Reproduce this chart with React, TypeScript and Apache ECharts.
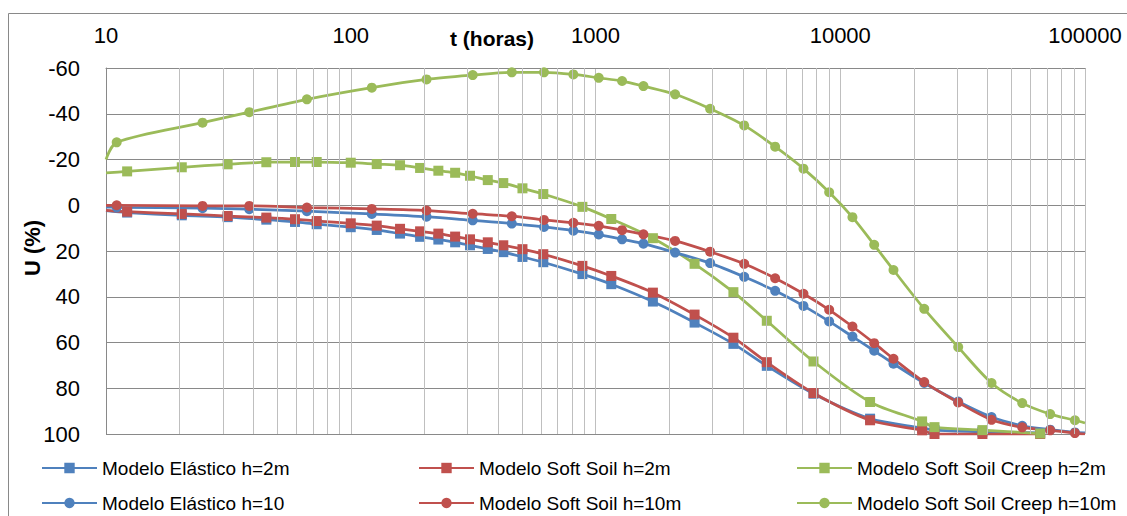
import React, { useEffect, useRef } from "react";
import * as echarts from "echarts";

// time values (hours) for the square-marker series (h = 2m)
const tSquares = [10, 12.2, 20.4, 31.4, 45.2, 59.2, 72.6, 100, 127.7, 159, 192, 228, 267, 307, 363, 420, 503, 612, 884, 1160, 1716, 2540, 3660, 5010, 7775, 13240, 21600, 24270, 38100, 65600];
// time values (hours) for the circle-marker series (h = 10m)
const tCircles = [10, 11.06, 24.8, 38.5, 66.2, 121.9, 204, 315, 455, 616, 812, 1031, 1284, 1570, 2115, 2940, 4050, 5420, 7075, 9010, 11215, 13760, 16500, 22030, 30330, 41500, 55390, 72070, 90930, 100000];

const elasticH2 = [2.4, 3.2, 4.4, 5.2, 6.3, 7.3, 8.3, 9.6, 10.8, 12.4, 13.8, 15.0, 16.2, 17.5, 19.1, 20.5, 22.6, 24.9, 30.1, 34.5, 42.1, 51.3, 60.6, 70.2, 82.4, 93.3, 97.4, 98.3, 99.0, 99.5];
const softH2 = [2.2, 2.8, 3.8, 4.7, 5.4, 6.1, 6.9, 7.9, 8.9, 10.3, 11.4, 12.4, 13.7, 14.9, 16.2, 17.5, 19.2, 21.4, 26.5, 30.9, 38.2, 47.8, 57.9, 68.6, 82.1, 94.0, 98.4, 100, 100, 100];
const creepH2 = [-14.2, -14.8, -16.6, -17.9, -18.8, -18.9, -18.9, -18.6, -18.0, -17.5, -16.3, -15.1, -14.2, -12.9, -11.0, -9.7, -7.4, -4.9, 0.7, 6.0, 14.4, 25.6, 38.0, 50.5, 68.3, 86.0, 94.5, 97.0, 98.3, 99.8];

const elasticH10 = [0.8, 0.9, 1.3, 1.7, 2.6, 3.8, 5.0, 6.6, 8.0, 9.5, 11.1, 12.8, 14.9, 16.8, 20.7, 25.3, 31.3, 37.4, 44.0, 50.8, 57.4, 63.6, 69.3, 77.7, 85.8, 92.6, 96.4, 98.1, 99.3, 99.5];
const softH10 = [0, 0, 0.3, 0.3, 1.0, 1.6, 2.3, 3.7, 4.8, 6.4, 7.7, 9.0, 10.9, 12.7, 15.6, 20.3, 25.6, 31.9, 38.7, 45.7, 53.0, 60.3, 67.1, 77.3, 86.2, 93.8, 97.1, 98.4, 99.6, 100];
const creepH10 = [-20, -27.5, -36.1, -40.7, -46.3, -51.4, -55.0, -56.9, -58.1, -58.1, -57.2, -55.7, -54.3, -52.1, -48.5, -42.2, -34.9, -25.6, -16.0, -5.7, 5.2, 17.3, 28.3, 45.3, 62.0, 77.7, 86.5, 91.3, 94.0, 95.2];

const seriesNames = [
  "Modelo Elástico h=2m",
  "Modelo Soft Soil h=2m",
  "Modelo Soft Soil Creep h=2m",
  "Modelo Elástico h=10",
  "Modelo Soft Soil h=10m",
  "Modelo Soft Soil Creep h=10m",
];
const colors = ["#4F81BD", "#C0504D", "#9BBB59"];

// minor vertical gridlines of the log axis
const minorT = [20, 30, 40, 50, 60, 70, 80, 90, 200, 300, 400, 500, 600, 700, 800, 900, 2000, 3000, 4000, 5000, 6000, 7000, 8000, 9000, 20000, 30000, 40000, 50000, 60000, 70000, 80000, 90000];

const xTitle = "t (horas)";
const yTitle = "U (%)";
const FONT = "Liberation Sans";

function build(ts: number[], vs: number[], edgeIdx: number[]) {
  return ts.map((t, i) =>
    edgeIdx.includes(i) ? { value: [t, vs[i]], symbol: "none" } : { value: [t, vs[i]] }
  );
}

function mkSeries(name: string, color: string, data: any[], symbol: string) {
  return {
    name,
    type: "line",
    data,
    smooth: 0.3,
    symbol,
    symbolSize: 10,
    showAllSymbol: true,
    clip: true,
    z: 3,
    lineStyle: { width: 2.75, color },
    itemStyle: { color },
  };
}

export default function App() {
  const ref = useRef<HTMLDivElement>(null);
  useEffect(() => {
    if (!ref.current) return;
    const chart = echarts.init(ref.current, undefined, { renderer: "svg" });
    const lastC = tCircles.length - 1;
    const legendPos = [
      [41, 457],
      [418, 457],
      [796, 457],
      [41, 492],
      [418, 492],
      [796, 492],
    ];
    const legends = seriesNames.map((n, i) => ({
      orient: "horizontal",
      left: legendPos[i][0],
      top: legendPos[i][1],
      itemWidth: 55,
      itemHeight: 13,
      padding: 0,
      data: [n],
      textStyle: { fontSize: 19, fontFamily: FONT, color: "#000", lineHeight: 22 },
    }));
    chart.setOption({
      animation: false,
      textStyle: { fontFamily: FONT },
      grid: { left: 106, right: 42, top: 68, bottom: 82 },
      xAxis: {
        type: "log",
        logBase: 10,
        min: 10,
        max: 100000,
        position: "top",
        axisLine: { show: true, onZero: false, lineStyle: { color: "#898989", width: 1 } },
        axisTick: { show: false },
        axisLabel: {
          fontSize: 22,
          color: "#000",
          margin: 22,
          formatter: (v: number) => String(Math.round(v)),
        },
        splitLine: { show: true, lineStyle: { color: "#BFBFBF", width: 1 } },
      },
      yAxis: {
        type: "value",
        inverse: true,
        min: -60,
        max: 100,
        interval: 20,
        axisLine: { show: true, onZero: false, lineStyle: { color: "#898989", width: 1 } },
        axisTick: { show: false },
        axisLabel: { fontSize: 22, color: "#000", margin: 26 },
        splitLine: { show: true, lineStyle: { color: "#898989", width: 1 } },
      },
      legend: legends,
      graphic: [
        {
          type: "rect",
          shape: { x: 8.5, y: 13.5, width: 1200, height: 600 },
          style: { fill: "none", stroke: "#898989", lineWidth: 1 },
          silent: true,
        },
        {
          type: "text",
          x: 492,
          y: 38,
          style: {
            text: xTitle,
            font: `bold 21px "${FONT}"`,
            fill: "#000",
            textAlign: "center",
            textVerticalAlign: "middle",
          },
        },
        {
          type: "text",
          x: 32,
          y: 248,
          rotation: Math.PI / 2,
          style: {
            text: yTitle,
            font: `bold 22px "${FONT}"`,
            fill: "#000",
            textAlign: "center",
            textVerticalAlign: "middle",
          },
        },
      ],
      series: [
        {
          name: "grid-minor",
          type: "line",
          data: [],
          z: 1,
          silent: true,
          markLine: {
            silent: true,
            symbol: ["none", "none"],
            label: { show: false },
            lineStyle: { color: "#BFBFBF", width: 1, type: "solid" },
            data: minorT.map((v) => ({ xAxis: v })),
          },
        },
        mkSeries(seriesNames[0], colors[0], build(tSquares, elasticH2, [0]), "rect"),
        mkSeries(seriesNames[1], colors[1], build(tSquares, softH2, [0]), "rect"),
        mkSeries(seriesNames[2], colors[2], build(tSquares, creepH2, [0]), "rect"),
        mkSeries(seriesNames[3], colors[0], build(tCircles, elasticH10, [0, lastC]), "circle"),
        mkSeries(seriesNames[4], colors[1], build(tCircles, softH10, [0, lastC]), "circle"),
        mkSeries(seriesNames[5], colors[2], build(tCircles, creepH10, [0, lastC]), "circle"),
      ],
    });
    return () => chart.dispose();
  }, []);
  return (
    <div
      ref={ref}
      style={{ position: "absolute", left: 0, top: 0, width: 1127, height: 516, background: "#fff" }}
    />
  );
}
